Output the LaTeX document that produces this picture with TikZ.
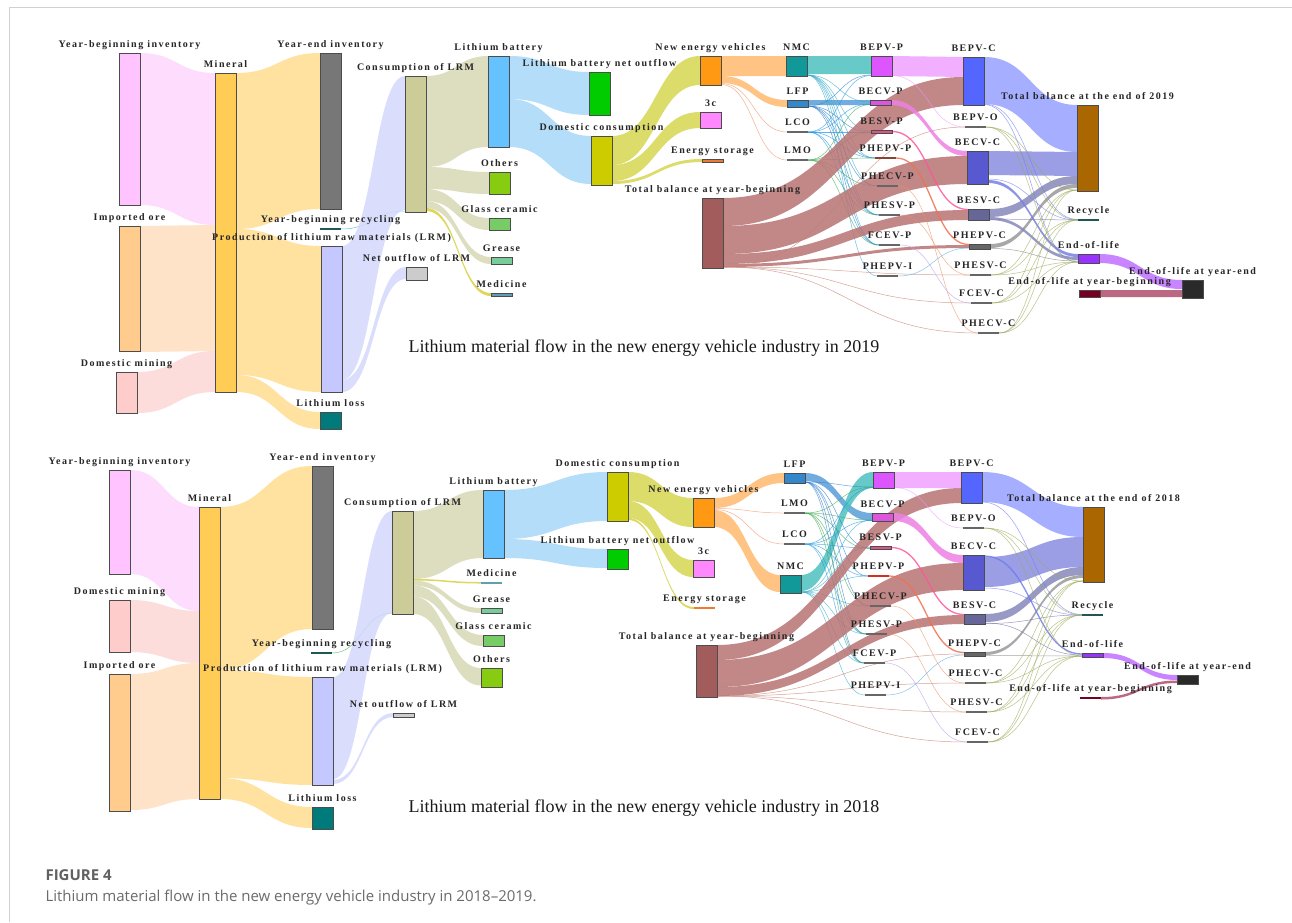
\documentclass[tikz,border=0pt]{standalone}
\usepackage{fontspec}
\newfontfamily\labfont[LetterSpace=15]{Liberation Serif}
\newfontfamily\titfont{Liberation Serif}
\newfontfamily\capfont[Ligatures=TeX]{Open Sans}
\usetikzlibrary{calc}
\pgfdeclarelayer{background}
\pgfsetlayers{background,main}

% node colours
\definecolor{cYBI}{HTML}{FFC4FF}
\definecolor{cIMP}{HTML}{FFCC8E}
\definecolor{cDOM}{HTML}{FFCCCC}
\definecolor{cMIN}{HTML}{FFCC55}
\definecolor{cYEI}{HTML}{777777}
\definecolor{cRec}{HTML}{1F5656}
\definecolor{cPRO}{HTML}{C4C8FF}
\definecolor{cLOS}{HTML}{007A7A}
\definecolor{cCON}{HTML}{CCCC99}
\definecolor{cNET}{HTML}{CCCCCC}
\definecolor{cLB}{HTML}{66C2FF}
\definecolor{cOTH}{HTML}{88CC11}
\definecolor{cGLS}{HTML}{77CC66}
\definecolor{cGRS}{HTML}{77CC99}
\definecolor{cMED}{HTML}{5F9FB0}
\definecolor{cLBN}{HTML}{00CC00}
\definecolor{cDC}{HTML}{CCCC00}
\definecolor{cNEV}{HTML}{FF9914}
\definecolor{c3C}{HTML}{FF88FF}
\definecolor{cES}{HTML}{EE7A33}
\definecolor{cTB}{HTML}{A35C5C}
\definecolor{cNMC}{HTML}{119999}
\definecolor{cLFP}{HTML}{3388CC}
\definecolor{cThin}{HTML}{666666}
\definecolor{cBEPVP}{HTML}{DD55FF}
\definecolor{cBECVP}{HTML}{DD55DD}
\definecolor{cBESVP}{HTML}{DD5588}
\definecolor{cPHEPVP}{HTML}{884433}
\definecolor{cPHEPVPr}{HTML}{CC3322}
\definecolor{cBEPVC}{HTML}{5566FF}
\definecolor{cBECVC}{HTML}{5858D0}
\definecolor{cBESVC}{HTML}{666699}
\definecolor{cPHEPVC}{HTML}{666666}
\definecolor{cTBE}{HTML}{AA6600}
\definecolor{cEOL}{HTML}{9933FF}
\definecolor{cEOLE}{HTML}{2A2A2A}
\definecolor{cEOLB}{HTML}{770022}
% band colours
\definecolor{fPink}{HTML}{FDD6FD}
\definecolor{fPeach}{HTML}{FEDFC0}
\definecolor{fRose}{HTML}{FDD6D6}
\definecolor{fGold}{HTML}{FFDD90}
\definecolor{fLav}{HTML}{D4D8FC}
\definecolor{fKhaki}{HTML}{D8D8B4}
\definecolor{fSky}{HTML}{A6D8F8}
\definecolor{fOlive}{HTML}{D6D650}
\definecolor{fOrng}{HTML}{FFB96E}
\definecolor{fTeal}{HTML}{4EC0C0}
\definecolor{fLFP}{HTML}{5A9EDA}
\definecolor{fMag}{HTML}{F0A0FF}
\definecolor{fMag2}{HTML}{EE80E4}
\definecolor{fBrown}{HTML}{B87474}
\definecolor{fBlue}{HTML}{96A0FF}
\definecolor{fBlue2}{HTML}{8A8EE0}
\definecolor{fBlue3}{HTML}{7A80E6}
\definecolor{fSlate}{HTML}{8888BC}
\definecolor{fGray}{HTML}{999999}
\definecolor{fPurp}{HTML}{C070FF}
\definecolor{fMaroon}{HTML}{B04E6E}
% thin link colours
\definecolor{lNMC}{HTML}{30AACC}
\definecolor{lLFP}{HTML}{2C7DD0}
\definecolor{lLCO}{HTML}{1E96E6}
\definecolor{lLMO}{HTML}{3CAA50}
\definecolor{lBr}{HTML}{C47E6E}
\definecolor{lMag}{HTML}{EE99FF}
\definecolor{lPink}{HTML}{FF5599}
\definecolor{lRed}{HTML}{EE7050}
\definecolor{lOr}{HTML}{F09060}
\definecolor{lPur}{HTML}{B89AEE}
\definecolor{lBlue}{HTML}{55AAEE}
\definecolor{lB}{HTML}{6F7CF0}
\definecolor{lS}{HTML}{7070AA}
\definecolor{lO}{HTML}{9AAA55}
\definecolor{lYel}{HTML}{D8D040}

\tikzset{
  box/.style={draw=black!70, line width=0.6pt, inner sep=0pt, outer sep=0pt,
    minimum width=21pt, anchor=north west},
  lab/.style={font=\labfont\bfseries\fontsize{10}{12}\selectfont, text=black!85,
    inner sep=0pt, text depth=0pt},
  every label/.style={lab},
  fl/.style={fill=#1, fill opacity=0.85},
  ln/.style={draw=#1, line width=0.5pt, draw opacity=0.7},
  lnw/.style={draw=#1, line width=1.3pt, draw opacity=0.85},
  title/.style={font=\titfont\fontsize{18}{20}\selectfont, text=black!90, anchor=base}
}

% box: name, x, y, colour, height, label
\newcommand\bx[6]{\node[box, fill=#4, minimum height=#5pt, label={above:#6}] (#1) at (#2,#3) {};}
% thin bar: name, x, y, colour, label
\newcommand\tb[5]{\node[box, draw=none, fill=#4, minimum height=2pt, label={above:#5}] (#1) at (#2,#3) {};}
% sankey band: style, source, source offset, target, target offset, width
\newcommand\flow[6]{%
  \coordinate (fA) at ([yshift=-#3pt]#2.north east);
  \coordinate (fB) at ([yshift=-#5pt]#4.north west);
  \coordinate (fC) at ([yshift=-#6pt]fA);
  \coordinate (fD) at ([yshift=-#6pt]fB);
  \coordinate (fM) at ($(fA)!0.5!(fB)$);
  \fill[#1] (fA) .. controls (fM |- fA) and (fM |- fB) .. (fB) -- (fD)
    .. controls (fM |- fD) and (fM |- fC) .. (fC) -- cycle;}
% thin link: style, source, source offset, target, target offset
\newcommand\lnk[5]{%
  \coordinate (fA) at ([yshift=-#3pt]#2.north east);
  \coordinate (fB) at ([yshift=-#5pt]#4.north west);
  \coordinate (fM) at ($(fA)!0.5!(fB)$);
  \draw[#1] (fA) .. controls (fM |- fA) and (fM |- fB) .. (fB);}

\begin{document}
\begin{tikzpicture}[x=1pt, y=-1pt, label distance=5pt]
\useasboundingbox (0,0) rectangle (1292,922);
\begin{pgfonlayer}{background}
\fill[white] (0,0) rectangle (1292,922);
\end{pgfonlayer}
\draw[black!18, line width=1pt] (9,922) -- (9,7) -- (1292,7);

% ================= 2019 =================
\bx{aYBI}{119}{53}{cYBI}{152}{Year-beginning inventory}
\bx{aIMP}{119}{226}{cIMP}{125}{Imported ore}
\bx{aDOM}{116}{372}{cDOM}{41}{Domestic mining}
\bx{aMIN}{215}{73}{cMIN}{319}{Mineral}
\bx{aYEI}{320}{53}{cYEI}{156}{Year-end inventory}
\tb{aYBR}{320}{228}{cRec}{Year-beginning recycling}
\bx{aPRO}{321}{246}{cPRO}{146}{Production of lithium raw materials (LRM)}
\bx{aLOS}{320}{412}{cLOS}{17}{Lithium loss}
\bx{aCON}{405}{76}{cCON}{136}{Consumption of LRM}
\bx{aNET}{406}{267}{cNET}{13}{Net outflow of LRM}
\bx{aLB}{488}{56}{cLB}{91}{Lithium battery}
\bx{aOTH}{489}{172}{cOTH}{22}{Others}
\bx{aGLS}{489}{218}{cGLS}{12}{Glass ceramic}
\bx{aGRS}{491}{257}{cGRS}{7}{Grease}
\bx{aMED}{491}{293}{cMED}{3}{Medicine}
\bx{aLBN}{589}{72}{cLBN}{43}{Lithium battery net outflow}
\bx{aDC}{591}{136}{cDC}{49}{Domestic consumption}
\bx{aNEV}{700}{56}{cNEV}{29}{New energy vehicles}
\bx{a3C}{700}{112}{c3C}{16}{3c}
\bx{aES}{702}{159}{cES}{3}{Energy storage}
\bx{aTB}{702}{198}{cTB}{70}{Total balance at year-beginning}
\bx{aNMC}{786}{56}{cNMC}{20}{NMC}
\bx{aLFP}{787}{100}{cLFP}{7}{LFP}
\tb{aLCO}{787}{131}{cThin}{LCO}
\tb{aLMO}{787}{159}{cThin}{LMO}
\bx{aBEPVP}{871}{56}{cBEPVP}{20}{BEPV-P}
\bx{aBECVP}{870}{100}{cBECVP}{5}{BECV-P}
\bx{aBESVP}{871}{130}{cBESVP}{3}{BESV-P}
\tb{aPHEPVP}{875}{157}{cPHEPVP}{PHEPV-P}
\tb{aPHECVP}{877}{185}{cThin}{PHECV-P}
\tb{aPHESVP}{879}{214}{cThin}{PHESV-P}
\tb{aFCEVP}{879}{244}{cThin}{FCEV-P}
\tb{aPHEPVI}{877}{275}{cThin}{PHEPV-I}
\bx{aBEPVC}{963}{57}{cBEPVC}{48}{BEPV-C}
\tb{aBEPVO}{965}{126}{cThin}{BEPV-O}
\bx{aBECVC}{967}{151}{cBECVC}{33}{BECV-C}
\bx{aBESVC}{968}{209}{cBESVC}{11}{BESV-C}
\bx{aPHEPVC}{969}{244}{cPHEPVC}{5}{PHEPV-C}
\tb{aPHESVC}{970}{274}{cThin}{PHESV-C}
\tb{aFCEVC}{971}{302}{cThin}{FCEV-C}
\tb{aPHECVC}{978}{332}{cThin}{PHECV-C}
\bx{aTBE}{1077}{105}{cTBE}{86}{Total balance at the end of 2019}
\tb{aREC}{1078}{219}{cRec}{Recycle}
\bx{aEOL}{1078}{254}{cEOL}{9}{End-of-life}
\bx{aEOLB}{1079}{290}{cEOLB}{7}{End-of-life at year-beginning}
\bx{aEOLE}{1182}{280}{cEOLE}{18}{End-of-life at year-end}

\node[title] (t19) at (644,352) {Lithium material flow in the new energy vehicle industry in 2019};

\begin{pgfonlayer}{background}
\flow{fl=fPink}{aYBI}{0}{aMIN}{0}{152}
\flow{fl=fPeach}{aIMP}{0}{aMIN}{152}{126}
\flow{fl=fRose}{aDOM}{0}{aMIN}{278}{41}
\flow{fl=fGold}{aMIN}{0}{aYEI}{0}{156}
\flow{fl=fGold}{aMIN}{156}{aPRO}{0}{146}
\flow{fl=fGold}{aMIN}{302}{aLOS}{0}{17}
\lnk{ln=lNMC}{aYBR}{1}{aCON}{135}
\flow{fl=fLav}{aPRO}{0}{aCON}{0}{134}
\flow{fl=fLav}{aPRO}{134}{aNET}{0}{12}
\flow{fl=fKhaki}{aCON}{0}{aLB}{0}{91}
\flow{fl=fKhaki}{aCON}{91}{aOTH}{0}{22}
\flow{fl=fKhaki}{aCON}{113}{aGLS}{0}{12}
\flow{fl=fKhaki}{aCON}{125}{aGRS}{0}{7}
\flow{fl=lYel}{aCON}{132}{aMED}{0}{3}
\flow{fl=fSky}{aLB}{0}{aLBN}{0}{43}
\flow{fl=fSky}{aLB}{43}{aDC}{0}{48}
\flow{fl=fOlive}{aDC}{0}{aNEV}{0}{29}
\flow{fl=fOlive}{aDC}{29}{a3C}{0}{16}
\flow{fl=fOlive}{aDC}{45}{aES}{0}{3}
\flow{fl=fOrng}{aNEV}{0}{aNMC}{0}{20}
\flow{fl=fOrng}{aNEV}{20}{aLFP}{0}{7}
\lnk{ln=lOr}{aNEV}{27.5}{aLCO}{1}
\lnk{ln=lOr}{aNEV}{28.5}{aLMO}{1}
\flow{fl=fTeal}{aNMC}{0}{aBEPVP}{0}{18}
\flow{fl=fLFP}{aLFP}{0}{aBECVP}{0}{5}
\foreach \t/\o in {aBECVP/2, aBESVP/1, aPHEPVP/1, aPHECVP/1, aPHESVP/1, aFCEVP/1, aPHEPVI/1}
  {\lnk{ln=lNMC}{aNMC}{19}{\t}{\o}}
\foreach \t/\o in {aBEPVP/19, aBESVP/2, aPHEPVP/1, aPHECVP/1, aPHESVP/1, aFCEVP/1}
  {\lnk{ln=lLFP}{aLFP}{6}{\t}{\o}}
\foreach \t/\o in {aBEPVP/19.5, aBECVP/4, aBESVP/2, aPHEPVP/1, aPHESVP/1, aFCEVP/1}
  {\lnk{ln=lLCO}{aLCO}{1}{\t}{\o}}
\foreach \t/\o in {aBECVP/4.5, aBESVP/2.5, aPHEPVP/1, aPHECVP/1, aPHESVP/1, aFCEVP/1}
  {\lnk{ln=lLMO}{aLMO}{1}{\t}{\o}}
% vehicle stock carried over
\flow{fl=fBrown}{aTB}{0}{aBEPVC}{20}{28}
\flow{fl=fBrown}{aTB}{28}{aBECVC}{5}{28}
\flow{fl=fBrown}{aTB}{56}{aBESVC}{1}{10}
\flow{fl=fBrown}{aTB}{66}{aPHEPVC}{1}{3}
\foreach \t/\o in {aBEPVO/1, aPHESVC/1, aFCEVC/1, aPHECVC/1}
  {\lnk{ln=lBr}{aTB}{69}{\t}{\o}}
% production to stock
\flow{fl=fMag}{aBEPVP}{0}{aBEPVC}{0}{20}
\flow{fl=fMag2}{aBECVP}{0}{aBECVC}{0}{5}
\lnk{ln=lMag}{aBEPVP}{19.5}{aBEPVO}{1}
\lnk{lnw=lPink}{aBESVP}{1.5}{aBESVC}{0.5}
\lnk{lnw=lRed}{aPHEPVP}{1}{aPHEPVC}{0.5}
\lnk{ln=lOr}{aPHECVP}{1}{aPHECVC}{1}
\lnk{ln=lOr}{aPHESVP}{1}{aPHESVC}{1}
\lnk{ln=lPur}{aFCEVP}{1}{aFCEVC}{1}
\lnk{ln=lBlue}{aPHEPVI}{1}{aPHEPVC}{4}
% stock to year end
\flow{fl=fBlue}{aBEPVC}{0}{aTBE}{0}{47}
\flow{fl=fBlue2}{aBECVC}{0}{aTBE}{47}{24}
\flow{fl=fSlate}{aBESVC}{0}{aTBE}{71}{8}
\flow{fl=fGray}{aPHEPVC}{0}{aTBE}{79}{4}
\flow{fl=fBlue3}{aBECVC}{29}{aEOL}{0}{3}
\flow{fl=fSlate}{aBESVC}{8}{aEOL}{3}{3}
\lnk{ln=lB}{aBEPVC}{47}{aREC}{0.5}
\lnk{ln=lB}{aBEPVC}{47.5}{aEOL}{8}
\lnk{ln=lB}{aBECVC}{28}{aREC}{1}
\lnk{ln=lS}{aBESVC}{10}{aREC}{1}
\lnk{ln=gray}{aPHEPVC}{4.5}{aEOL}{7}
\foreach \s in {aPHESVC, aFCEVC, aPHECVC, aBEPVO}
  {\lnk{ln=lO}{\s}{1}{aTBE}{85}\lnk{ln=lO}{\s}{1}{aREC}{1}\lnk{ln=lO}{\s}{1}{aEOL}{8}}
\flow{fl=fPurp}{aEOL}{0}{aEOLE}{0}{9}
\flow{fl=fMaroon}{aEOLB}{0}{aEOLE}{10}{7}
\end{pgfonlayer}

% ================= 2018 =================
\bx{bYBI}{109}{470}{cYBI}{104}{Year-beginning inventory}
\bx{bDOM}{109}{600}{cDOM}{52}{Domestic mining}
\bx{bIMP}{109}{674}{cIMP}{137}{Imported ore}
\bx{bMIN}{199}{507}{cMIN}{292}{Mineral}
\bx{bYEI}{312}{466}{cYEI}{163}{Year-end inventory}
\tb{bYBR}{311}{652}{cRec}{Year-beginning recycling}
\bx{bPRO}{312}{677}{cPRO}{108}{Production of lithium raw materials (LRM)}
\bx{bLOS}{312}{807}{cLOS}{22}{Lithium loss}
\bx{bCON}{392}{511}{cCON}{103}{Consumption of LRM}
\bx{bNET}{393}{713}{cNET}{4}{Net outflow of LRM}
\bx{bLB}{483}{490}{cLB}{68}{Lithium battery}
\tb{bMED}{481}{582}{cMED}{Medicine}
\bx{bGRS}{481}{608}{cGRS}{5}{Grease}
\bx{bGLS}{483}{635}{cGLS}{11}{Glass ceramic}
\bx{bOTH}{481}{668}{cOTH}{19}{Others}
\bx{bDC}{607}{472}{cDC}{49}{Domestic consumption}
\bx{bLBN}{607}{549}{cLBN}{20}{Lithium battery net outflow}
\bx{bNEV}{693}{498}{cNEV}{29}{New energy vehicles}
\bx{b3C}{693}{560}{c3C}{17}{3c}
\tb{bES}{694}{607}{cES}{Energy storage}
\bx{bTB}{696}{645}{cTB}{52}{Total balance at year-beginning}
\bx{bLFP}{784}{473}{cLFP}{10}{LFP}
\tb{bLMO}{784}{512}{cThin}{LMO}
\tb{bLCO}{784}{543}{cThin}{LCO}
\bx{bNMC}{780}{575}{cNMC}{18}{NMC}
\bx{bBEPVP}{873}{472}{cBEPVP}{16}{BEPV-P}
\bx{bBECVP}{872}{513}{cBECVP}{8}{BECV-P}
\bx{bBESVP}{870}{546}{cBESVP}{3}{BESV-P}
\tb{bPHEPVP}{868}{575}{cPHEPVPr}{PHEPV-P}
\tb{bPHECVP}{870}{605}{cThin}{PHECV-P}
\tb{bPHESVP}{866}{633}{cThin}{PHESV-P}
\tb{bFCEVP}{864}{662}{cThin}{FCEV-P}
\tb{bPHEPVI}{865}{694}{cThin}{PHEPV-I}
\bx{bBEPVC}{961}{472}{cBEPVC}{31}{BEPV-C}
\tb{bBEPVO}{963}{527}{cThin}{BEPV-O}
\bx{bBECVC}{963}{555}{cBECVC}{35}{BECV-C}
\bx{bBESVC}{964}{614}{cBESVC}{10}{BESV-C}
\bx{bPHEPVC}{964}{652}{cPHEPVC}{4}{PHEPV-C}
\tb{bPHECVC}{965}{682}{cThin}{PHECV-C}
\tb{bPHESVC}{966}{711}{cThin}{PHESV-C}
\tb{bFCEVC}{967}{741}{cThin}{FCEV-C}
\bx{bTBE}{1083}{507}{cTBE}{75}{Total balance at the end of 2018}
\tb{bREC}{1082}{614}{cRec}{Recycle}
\bx{bEOL}{1082}{653}{cEOL}{4}{End-of-life}
\tb{bEOLB}{1080}{697}{cEOLB}{End-of-life at year-beginning}
\bx{bEOLE}{1177}{675}{cEOLE}{9}{End-of-life at year-end}

\node[title] (t18) at (644,812) {Lithium material flow in the new energy vehicle industry in 2018};

\begin{pgfonlayer}{background}
\flow{fl=fPink}{bYBI}{0}{bMIN}{0}{104}
\flow{fl=fRose}{bDOM}{0}{bMIN}{104}{52}
\flow{fl=fPeach}{bIMP}{0}{bMIN}{156}{136}
\flow{fl=fGold}{bMIN}{0}{bYEI}{0}{163}
\flow{fl=fGold}{bMIN}{163}{bPRO}{0}{108}
\flow{fl=fGold}{bMIN}{271}{bLOS}{0}{21}
\lnk{ln=lLMO}{bYBR}{1}{bCON}{102}
\flow{fl=fLav}{bPRO}{0}{bCON}{0}{102}
\flow{fl=fLav}{bPRO}{103}{bNET}{0}{4}
\flow{fl=fKhaki}{bCON}{0}{bLB}{0}{68}
\flow{fl=lYel}{bCON}{68}{bMED}{0}{1.5}
\flow{fl=fKhaki}{bCON}{69.5}{bGRS}{0}{5}
\flow{fl=fKhaki}{bCON}{74.5}{bGLS}{0}{11}
\flow{fl=fKhaki}{bCON}{85.5}{bOTH}{0}{17.5}
\flow{fl=fSky}{bLB}{0}{bDC}{0}{49}
\flow{fl=fSky}{bLB}{49}{bLBN}{0}{19}
\flow{fl=fOlive}{bDC}{0}{bNEV}{0}{29}
\flow{fl=fOlive}{bDC}{29}{b3C}{0}{17}
\flow{fl=lYel}{bDC}{46}{bES}{0}{2}
\flow{fl=fOrng}{bNEV}{0}{bLFP}{0}{10}
\lnk{ln=lOr}{bNEV}{10.5}{bLMO}{1}
\lnk{ln=lOr}{bNEV}{11.5}{bLCO}{1}
\flow{fl=fOrng}{bNEV}{12}{bNMC}{0}{17}
\flow{fl=fLFP}{bLFP}{0}{bBECVP}{0}{8}
\flow{fl=fTeal}{bNMC}{0}{bBEPVP}{0}{16}
\foreach \t/\o in {bBECVP/7, bBESVP/1, bPHEPVP/1, bPHECVP/1, bPHESVP/1, bFCEVP/1, bPHEPVI/1}
  {\lnk{ln=lNMC}{bNMC}{17}{\t}{\o}}
\foreach \t/\o in {bBEPVP/15, bBESVP/2, bPHEPVP/1, bPHECVP/1, bPHESVP/1, bFCEVP/1}
  {\lnk{ln=lLFP}{bLFP}{9}{\t}{\o}}
\foreach \t/\o in {bBEPVP/15.5, bBECVP/7.5, bBESVP/2, bPHEPVP/1, bPHESVP/1, bFCEVP/1}
  {\lnk{ln=lLCO}{bLCO}{1}{\t}{\o}}
\foreach \t/\o in {bBEPVP/15, bBECVP/7, bBESVP/2.5, bPHECVP/1, bPHESVP/1, bFCEVP/1}
  {\lnk{ln=lLMO}{bLMO}{1}{\t}{\o}}
\flow{fl=fBrown}{bTB}{0}{bBEPVC}{16}{15}
\flow{fl=fBrown}{bTB}{15}{bBECVC}{8}{27}
\flow{fl=fBrown}{bTB}{42}{bBESVC}{1}{9}
\foreach \t/\o in {bPHEPVC/2, bPHECVC/1, bPHESVC/1, bFCEVC/1}
  {\lnk{ln=lBr}{bTB}{51}{\t}{\o}}
\flow{fl=fMag}{bBEPVP}{0}{bBEPVC}{0}{16}
\flow{fl=fMag2}{bBECVP}{0}{bBECVC}{0}{8}
\lnk{ln=lMag}{bBEPVP}{15.5}{bBEPVO}{1}
\lnk{lnw=lPink}{bBESVP}{1.5}{bBESVC}{0.5}
\lnk{lnw=lRed}{bPHEPVP}{1}{bPHEPVC}{0.5}
\lnk{ln=lOr}{bPHECVP}{1}{bPHECVC}{1}
\lnk{ln=lOr}{bPHESVP}{1}{bPHESVC}{1}
\lnk{ln=lPur}{bFCEVP}{1}{bFCEVC}{1}
\lnk{ln=lBlue}{bPHEPVI}{1}{bPHEPVC}{3}
\flow{fl=fBlue}{bBEPVC}{0}{bTBE}{0}{30}
\flow{fl=fBlue2}{bBECVC}{2}{bTBE}{30}{30}
\flow{fl=fSlate}{bBESVC}{0}{bTBE}{60}{8}
\flow{fl=fGray}{bPHEPVC}{0}{bTBE}{68}{3}
\lnk{lnw=lB}{bBECVC}{1}{bEOL}{1}
\lnk{ln=lS}{bBESVC}{9}{bEOL}{2}
\lnk{ln=lB}{bBEPVC}{30}{bREC}{0.5}
\lnk{ln=lB}{bBECVC}{33}{bREC}{1}
\lnk{ln=lS}{bBESVC}{9.5}{bREC}{1}
\lnk{ln=gray}{bPHEPVC}{3.5}{bEOL}{3}
\foreach \s in {bPHECVC, bPHESVC, bFCEVC, bBEPVO}
  {\lnk{ln=lO}{\s}{1}{bTBE}{74}\lnk{ln=lO}{\s}{1}{bREC}{1}\lnk{ln=lO}{\s}{1}{bEOL}{3}}
\flow{fl=fPurp}{bEOL}{0}{bEOLE}{0}{5}
\flow{fl=fMaroon}{bEOLB}{0}{bEOLE}{5.5}{2.5}
\end{pgfonlayer}

% caption
\node[font=\capfont\bfseries\fontsize{15}{18}\selectfont, text=black!62, anchor=base west] (fig) at (42,880) {FIGURE 4};
\node[font=\capfont\fontsize{15}{18}\selectfont, text=black!58, anchor=base west] (cap) at (42,901) {Lithium material flow in the new energy vehicle industry in 2018–2019.};
\end{tikzpicture}
\end{document}
